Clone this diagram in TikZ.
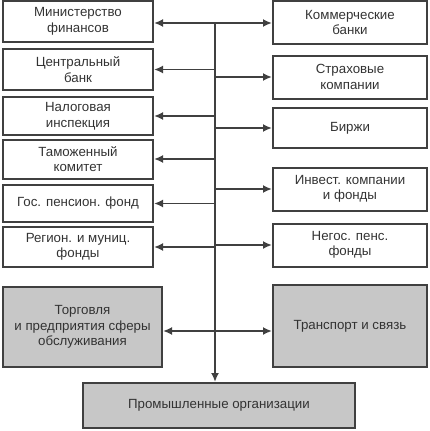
\documentclass[tikz,border=0pt]{standalone}
\usepackage{fontspec}
\setmainfont{Liberation Sans}
\usetikzlibrary{arrows.meta}
\begin{document}
\begin{tikzpicture}[x=1pt,y=-1pt,
  box/.style={draw=black!75,line width=2pt,text=black!80,align=center,
    inner sep=0pt,font=\fontsize{13.3}{15.5}\selectfont},
  gbox/.style={box,fill=black!22},
  arr/.style={draw=black!75,line width=1.8pt,-{Latex[length=9pt,width=8pt]}},
  darr/.style={draw=black!75,line width=1.8pt,{Latex[length=9pt,width=8pt]}-{Latex[length=9pt,width=8pt]}},
  ln/.style={draw=black!75,line width=1.8pt}]
\useasboundingbox (0,0) rectangle (430,431);
% left column
\node[box,minimum width=150pt,minimum height=41pt] (L1) at (78,21.5) {Министерство\\финансов};
\node[box,minimum width=150pt,minimum height=41pt] (L2) at (78,69.5) {Центральный\\банк};
\node[box,minimum width=150pt,minimum height=38pt] (L3) at (78,116) {Налоговая\\инспекция};
\node[box,minimum width=150pt,minimum height=39pt] (L4) at (78,159) {Таможенный\\комитет};
\node[box,minimum width=150pt,minimum height=37pt] (L5) at (78,203.5) {Гос. пенсион. фонд};
\node[box,minimum width=150pt,minimum height=40pt] (L6) at (78,247) {Регион. и муниц.\\фонды};
% right column
\node[box,minimum width=154pt,minimum height=43pt] (R1) at (350,22.5) {Коммерческие\\банки};
\node[box,minimum width=154pt,minimum height=43pt] (R2) at (350,77) {Страховые\\компании};
\node[box,minimum width=154pt,minimum height=40pt] (R3) at (350,128) {Биржи};
\node[box,minimum width=154pt,minimum height=43pt] (R4) at (350,189) {Инвест. компании\\и фонды};
\node[box,minimum width=154pt,minimum height=43pt] (R5) at (350,245) {Негос. пенс.\\фонды};
% bottom
\node[gbox,minimum width=159pt,minimum height=80pt] (TL) at (82.5,327) {Торговля\\и предприятия сферы\\обслуживания};
\node[gbox,minimum width=154pt,minimum height=82pt] (TR) at (350,326) {Транспорт и связь};
\node[gbox,minimum width=272pt,minimum height=45pt] (B) at (219,405.5) {Промышленные организации};
% trunk
\coordinate (T) at (215,23);
\coordinate (H) at (215,331);
\draw[arr] (T) -- (L1.east |- T);
\draw[arr] (T) -- (R1.west |- T);
\draw[arr] (T) -- (T |- B.north);
\foreach \n in {L2,L3,L4,L5,L6} {\draw[arr] (\n.east -| T) -- (\n.east);}
\foreach \n in {R2,R3,R4,R5} {\draw[arr] (\n.west -| T) -- (\n.west);}
\draw[darr] (TL.east |- H) -- (TR.west |- H);
\end{tikzpicture}
\end{document}
